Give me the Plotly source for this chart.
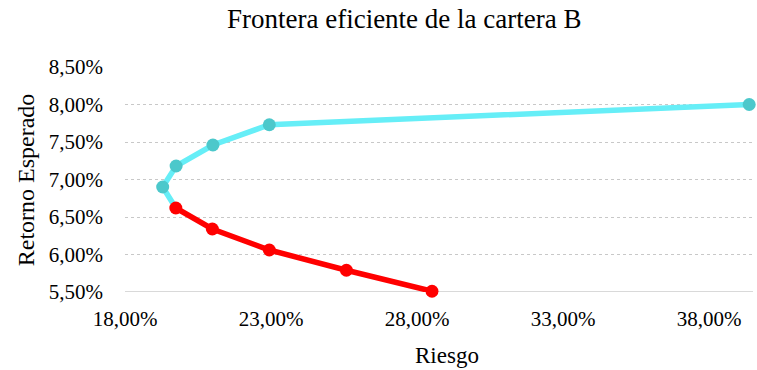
import plotly.graph_objects as go

# Upper (efficient) branch, starting at the point it shares with the lower branch
riesgo_sup = [0.1974, 0.1929, 0.1975, 0.2101, 0.2294, 0.3937]
retorno_sup = [0.0662, 0.0690, 0.0718, 0.0746, 0.0773, 0.0800]

# Lower (inefficient) branch
riesgo_inf = [0.1974, 0.2099, 0.2294, 0.2558, 0.2851]
retorno_inf = [0.0662, 0.0634, 0.0606, 0.0579, 0.0551]

x_ticks = [0.18, 0.23, 0.28, 0.33, 0.38]
y_ticks = [0.055, 0.060, 0.065, 0.070, 0.075, 0.080, 0.085]

font_family = "Liberation Serif, Times New Roman, serif"

fig = go.Figure()

# cyan branch: first point hidden under the red marker
fig.add_trace(go.Scatter(
    x=riesgo_sup, y=retorno_sup, mode="lines+markers",
    line=dict(color="#66EEF7", width=5.5),
    marker=dict(color=["rgba(0,0,0,0)"] + ["#4CC8CB"] * (len(riesgo_sup) - 1),
                size=13, line=dict(width=0)),
    showlegend=False, hoverinfo="x+y", cliponaxis=False,
))

fig.add_trace(go.Scatter(
    x=riesgo_inf, y=retorno_inf, mode="lines+markers",
    line=dict(color="#FF0000", width=5.5),
    marker=dict(color="#FF0000", size=13, line=dict(width=0)),
    showlegend=False, hoverinfo="x+y", cliponaxis=False,
))

fig.update_layout(
    width=757, height=370,
    margin=dict(l=125, r=4, t=67, b=78),
    paper_bgcolor="white", plot_bgcolor="white",
    font=dict(family=font_family, color="#000000"),
    title=dict(text="Frontera eficiente de la cartera B",
               font=dict(size=27, family=font_family, color="#000000"),
               x=0.534, xref="container", xanchor="center",
               y=0.95, yref="container", yanchor="middle"),
)

fig.update_xaxes(
    range=[0.18, 0.395],
    tickvals=x_ticks,
    ticktext=[f"{v*100:.2f}%".replace(".", ",") for v in x_ticks],
    tickfont=dict(size=21, family=font_family),
    ticks="", showgrid=False, zeroline=False,
    showline=False,
    ticklabelstandoff=12,
)

fig.update_yaxes(
    range=[0.055, 0.085],
    tickvals=y_ticks,
    ticktext=[f"{v*100:.2f}%".replace(".", ",") for v in y_ticks],
    tickfont=dict(size=21, family=font_family),
    ticks="", showgrid=True, gridcolor="#C8C8C8", griddash="dot", gridwidth=1,
    zeroline=False, showline=False,
    ticklabelstandoff=21,
)

# axis titles
fig.add_annotation(text="Riesgo", xref="paper", yref="paper",
                   x=0.5127, y=-0.284, xanchor="center", yanchor="middle",
                   showarrow=False, font=dict(size=23, family=font_family))
fig.add_annotation(text="Retorno Esperado", xref="paper", yref="paper",
                   x=-0.158, y=0.5, xanchor="center", yanchor="middle",
                   textangle=-90, showarrow=False,
                   font=dict(size=24, family=font_family))

# solid baseline along the bottom of the plot area
fig.add_shape(type="line", xref="paper", yref="y", x0=0, x1=1,
              y0=0.055, y1=0.055, line=dict(color="#D9D9D9", width=2),
              layer="below")

fig.write_html("out.html")
